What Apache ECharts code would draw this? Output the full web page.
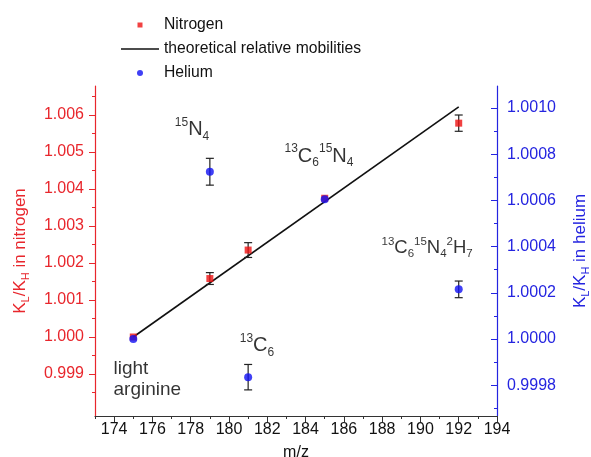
<!DOCTYPE html>
<html><head><meta charset="utf-8">
<script src="https://cdn.jsdelivr.net/npm/echarts@6/dist/echarts.min.js"></script>
<style>html,body{margin:0;padding:0;background:#fff}#c{width:591px;height:457px}</style>
</head><body><div id="c"></div>
<script>
// ---- data ----
const massValues      = [175, 179, 181, 185, 192];
const nitrogenValues  = [1.0000, 1.00158, 1.00235, 1.00375, 1.00578];
const nitrogenErrors  = [0, 0.00016, 0.00020, 0, 0.00022];
const heliumValues    = [1.00000, 1.000724, 0.999835, 1.000605, 1.000215];
const heliumErrors    = [0, 0.000058, 0.000055, 0, 0.000036];
const theoryMass      = [175, 192];
const theoryValues    = [1.0000, 1.00622];

const xMajorTicks     = [174, 176, 178, 180, 182, 184, 186, 188, 190, 192, 194];
const xMinorTicks     = [173, 175, 177, 179, 181, 183, 185, 187, 189, 191, 193];
const leftMajorTicks  = [0.999, 1.000, 1.001, 1.002, 1.003, 1.004, 1.005, 1.006];
const leftMinorTicks  = [0.9985, 0.9995, 1.0005, 1.0015, 1.0025, 1.0035, 1.0045, 1.0055, 1.0065];
const rightMajorTicks = [0.9998, 1.0000, 1.0002, 1.0004, 1.0006, 1.0008, 1.0010];
const rightMinorTicks = [0.9997, 0.9999, 1.0001, 1.0003, 1.0005, 1.0007, 1.0009];

const annotationTexts = [
  '{sup|15}{m|N}{sub|4}',
  '{sup|13}{m|C}{sub|6}{sup|15}{m|N}{sub|4}',
  '{sup2|13}{m2|C}{sub2|6}{sup2|15}{m2|N}{sub2|4}{sup2|2}{m2|H}{sub2|7}',
  '{sup|13}{m|C}{sub|6}',
  '{t|light}\n{t|arginine}'
];
const annotationX = [178.07, 184.7, 190.35, 181.46, 173.94];
const annotationY = [1.000905, 1.000792, 1.000394, 0.99997, 0.999828];

// ---- chart ----
const RED = '#e8262c', BLUE = '#2424e0', FONT = 'Liberation Sans, Arial, sans-serif';
const chart = echarts.init(document.getElementById('c'), null, {renderer: 'canvas'});

function errRender(params, api) {
  const x = api.value(0), y = api.value(1), e = api.value(2);
  if (!e) return null;
  const t = api.coord([x, y + e]), b = api.coord([x, y - e]);
  const hw = 4, st = {stroke: '#222', lineWidth: 1.2};
  return {type: 'group', children: [
    {type: 'line', shape: {x1: t[0], y1: t[1], x2: b[0], y2: b[1]}, style: st},
    {type: 'line', shape: {x1: t[0] - hw, y1: t[1], x2: t[0] + hw, y2: t[1]}, style: st},
    {type: 'line', shape: {x1: b[0] - hw, y1: b[1], x2: b[0] + hw, y2: b[1]}, style: st}
  ]};
}

const xRange = {min: 173, max: 194};
const leftRange = {min: 0.997865, max: 1.006784};
const rightRange = {min: 0.999667, max: 1.001095};
const txt = (size, lh, va) => ({fontSize: size, color: '#000', fontFamily: FONT, lineHeight: lh, verticalAlign: va});

const option = {
  animation: false,
  textStyle: {fontFamily: FONT},
  grid: {left: 95, right: 94, top: 86, bottom: 41, containLabel: false, outerBoundsMode: 'none'},
  legend: {
    orient: 'vertical', left: 116, top: 12, itemWidth: 38, itemHeight: 14, itemGap: 8,
    textStyle: {fontSize: 15.7, color: '#111', fontFamily: FONT, lineHeight: 16},
    selectedMode: false,
    data: [
      {name: 'Nitrogen', icon: 'path://M0,0M38,14M16.5,4.5h5v5h-5z'},
      {name: 'theoretical relative mobilities', icon: 'path://M0,0M38,14M0,6.2h38v1.6h-38z'},
      {name: 'Helium', icon: 'path://M0,0M38,14M22,7A3,3,0,1,1,16,7A3,3,0,1,1,22,7Z'}
    ]
  },
  xAxis: [
    Object.assign({
      type: 'value', position: 'bottom',
      name: 'm/z', nameLocation: 'middle', nameGap: 29,
      nameTextStyle: {fontSize: 16, color: '#111', fontFamily: FONT},
      axisLine: {show: true, onZero: false, lineStyle: {color: '#333', width: 1.2}},
      axisTick: {show: true, inside: false, length: 6, customValues: xMajorTicks, lineStyle: {color: '#333'}},
      axisLabel: {show: true, margin: 6, fontSize: 16, color: '#111', fontFamily: FONT, customValues: xMajorTicks},
      splitLine: {show: false}
    }, xRange),
    Object.assign({
      type: 'value', position: 'bottom',
      axisLine: {show: false, onZero: false},
      axisTick: {show: true, inside: false, length: 3, customValues: xMinorTicks, lineStyle: {color: '#333'}},
      axisLabel: {show: false}, splitLine: {show: false}
    }, xRange)
  ],
  yAxis: [
    Object.assign({
      type: 'value', position: 'left',
      name: '{m|K}{s|L}{m|/K}{s|H}{m| in nitrogen}', nameLocation: 'middle', nameGap: 64, nameRotate: 90,
      nameTextStyle: {color: RED, fontFamily: FONT, rich: {
        m: {fontSize: 17, color: RED, fontFamily: FONT, lineHeight: 22, verticalAlign: 'middle'},
        s: {fontSize: 11, color: RED, fontFamily: FONT, lineHeight: 22, verticalAlign: 'bottom'}
      }},
      axisLine: {show: true, onZero: false, lineStyle: {color: RED, width: 1.2}},
      axisTick: {show: true, inside: false, length: 6, customValues: leftMajorTicks, lineStyle: {color: RED}},
      axisLabel: {show: true, margin: 11, fontSize: 16, color: RED, fontFamily: FONT, customValues: leftMajorTicks,
        formatter: v => v.toFixed(3)},
      splitLine: {show: false}
    }, leftRange),
    Object.assign({
      type: 'value', position: 'left',
      axisLine: {show: false, onZero: false},
      axisTick: {show: true, inside: false, length: 3, customValues: leftMinorTicks, lineStyle: {color: RED}},
      axisLabel: {show: false}, splitLine: {show: false}
    }, leftRange),
    Object.assign({
      type: 'value', position: 'right',
      name: '{m|K}{s|L}{m|/K}{s|H}{m| in helium}', nameLocation: 'middle', nameGap: 72, nameRotate: 90,
      nameTextStyle: {color: BLUE, fontFamily: FONT, rich: {
        m: {fontSize: 17, color: BLUE, fontFamily: FONT, lineHeight: 22, verticalAlign: 'middle'},
        s: {fontSize: 11, color: BLUE, fontFamily: FONT, lineHeight: 22, verticalAlign: 'bottom'}
      }},
      axisLine: {show: true, onZero: false, lineStyle: {color: BLUE, width: 1.2}},
      axisTick: {show: true, inside: true, length: 6, customValues: rightMajorTicks, lineStyle: {color: BLUE}},
      axisLabel: {show: true, margin: 10, fontSize: 16, color: BLUE, fontFamily: FONT, customValues: rightMajorTicks,
        formatter: v => v.toFixed(4)},
      splitLine: {show: false}
    }, rightRange),
    Object.assign({
      type: 'value', position: 'right',
      axisLine: {show: false, onZero: false},
      axisTick: {show: true, inside: true, length: 3, customValues: rightMinorTicks, lineStyle: {color: BLUE}},
      axisLabel: {show: false}, splitLine: {show: false}
    }, rightRange)
  ],
  series: [
    {
      name: 'theoretical relative mobilities', type: 'line', xAxisIndex: 0, yAxisIndex: 0,
      data: theoryMass.map((m, i) => [m, theoryValues[i]]),
      symbol: 'none', lineStyle: {color: '#111', width: 1.6}, itemStyle: {color: '#111'}, z: 2, silent: true
    },
    {
      name: 'nitrogenErr', type: 'custom', xAxisIndex: 0, yAxisIndex: 0, renderItem: errRender,
      encode: {x: 0, y: 1}, data: massValues.map((m, i) => [m, nitrogenValues[i], nitrogenErrors[i]]), z: 3, silent: true
    },
    {
      name: 'heliumErr', type: 'custom', xAxisIndex: 0, yAxisIndex: 2, renderItem: errRender,
      encode: {x: 0, y: 1}, data: massValues.map((m, i) => [m, heliumValues[i], heliumErrors[i]]), z: 3, silent: true
    },
    {
      name: 'Nitrogen', type: 'scatter', xAxisIndex: 0, yAxisIndex: 0, symbol: 'rect', symbolSize: 7,
      itemStyle: {color: '#ee1111'}, data: massValues.map((m, i) => [m, nitrogenValues[i]]), z: 4, silent: true
    },
    {
      name: 'Helium', type: 'scatter', xAxisIndex: 0, yAxisIndex: 2, symbol: 'circle', symbolSize: 8,
      itemStyle: {color: '#1010f2'}, data: massValues.map((m, i) => [m, heliumValues[i]]), z: 5, silent: true
    },
    {
      name: 'annotations', type: 'scatter', xAxisIndex: 0, yAxisIndex: 2, symbolSize: 1,
      itemStyle: {color: 'rgba(0,0,0,0)'}, silent: true, z: 6,
      label: {
        show: true, position: 'inside', color: '#000', fontFamily: FONT,
        formatter: p => annotationTexts[p.dataIndex],
        rich: {
          m: txt(20, 26, 'middle'), sup: txt(12, 26, 'top'), sub: txt(12, 26, 'bottom'),
          m2: txt(18.5, 24, 'middle'), sup2: txt(11.5, 24, 'top'), sub2: txt(11.5, 24, 'bottom'),
          t: Object.assign(txt(19, 21, 'middle'), {align: 'left'})
        }
      },
      labelLayout: {hideOverlap: false},
      data: annotationX.map((x, i) => {
        const d = {value: [x, annotationY[i]]};
        if (i === 4) d.label = {position: 'right', distance: 0, align: 'left'};
        return d;
      })
    }
  ]
};
chart.setOption(option);
</script>
</body></html>
